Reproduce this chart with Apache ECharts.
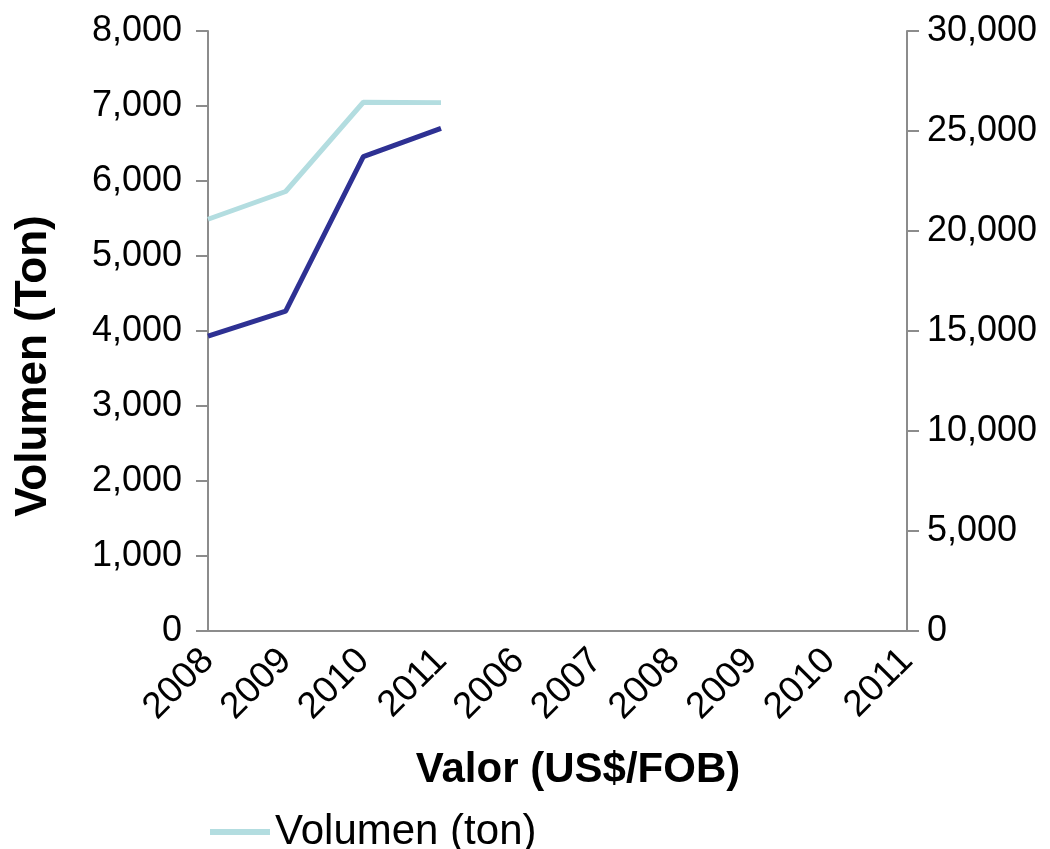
<!DOCTYPE html>
<html>
<head>
<meta charset="utf-8">
<script src="https://cdn.jsdelivr.net/npm/echarts@6/dist/echarts.min.js"></script>
<style>
  html, body { margin: 0; padding: 0; background: #fff; }
  #main { width: 1050px; height: 849px; }
</style>
</head>
<body>
<div id="main"></div>
<script>
var myChart = echarts.init(document.getElementById('main'), null, {renderer: 'canvas'});

// data
var years = ['2008', '2009', '2010', '2011', '2006', '2007', '2008', '2009', '2010', '2011'];
var volumen = [5490, 5860, 7050, 7045, null, null, null, null, null, null];   // left axis, ton
var valor = [14740, 15990, 23720, 25130, null, null, null, null, null, null]; // right axis, US$/FOB

var FONT = '"Liberation Sans", Arial, sans-serif';
var axisGray = '#8c8c8c';

function miles(v) {
    return String(v).replace(/\B(?=(\d{3})+(?!\d))/g, ',');
}

var option = {
    backgroundColor: '#fff',
    animation: false,
    textStyle: { fontFamily: FONT },
    grid: {
        left: 208,
        right: 143,
        top: 31,
        bottom: 218
    },
    legend: {
        data: [{ name: 'Volumen (ton)', icon: 'rect' }],
        left: 205,
        top: 806,
        itemWidth: 60,
        itemHeight: 6,
        itemGap: 10,
        textStyle: { fontSize: 42, color: '#000', fontFamily: FONT }
    },
    xAxis: {
        type: 'category',
        data: years,
        boundaryGap: false,
        axisLine: { lineStyle: { color: axisGray, width: 2 } },
        axisTick: { show: false },
        axisLabel: {
            rotate: 45,
            interval: 0,
            margin: 24,
            fontSize: 37,
            color: '#000',
            fontFamily: FONT
        },
        name: 'Valor (US$/FOB)',
        nameLocation: 'middle',
        nameGap: 118,
        nameTextStyle: {
            fontSize: 42,
            fontWeight: 'bold',
            color: '#000',
            fontFamily: FONT,
            padding: [0, 0, 0, 41]
        }
    },
    yAxis: [
        {
            type: 'value',
            min: 0,
            max: 8000,
            interval: 1000,
            position: 'left',
            splitLine: { show: false },
            axisLine: { show: true, lineStyle: { color: axisGray, width: 2 } },
            axisTick: { show: true, length: 12, lineStyle: { color: axisGray, width: 2 } },
            axisLabel: {
                margin: 26,
                fontSize: 36,
                color: '#000',
                fontFamily: FONT,
                formatter: miles
            },
            name: 'Volumen (Ton)',
            nameLocation: 'middle',
            nameGap: 152,
            nameTextStyle: {
                fontSize: 44,
                fontWeight: 'bold',
                color: '#000',
                fontFamily: FONT,
                padding: [0, 70, 0, 0]
            }
        },
        {
            type: 'value',
            min: 0,
            max: 30000,
            interval: 5000,
            position: 'right',
            splitLine: { show: false },
            axisLine: { show: true, lineStyle: { color: axisGray, width: 2 } },
            axisTick: { show: true, length: 12, lineStyle: { color: axisGray, width: 2 } },
            axisLabel: {
                margin: 20,
                fontSize: 36,
                color: '#000',
                fontFamily: FONT,
                formatter: miles
            }
        }
    ],
    series: [
        {
            name: 'Volumen (ton)',
            type: 'line',
            yAxisIndex: 0,
            data: volumen,
            symbol: 'none',
            lineStyle: { color: '#b3dde0', width: 5 },
            itemStyle: { color: '#b3dde0' }
        },
        {
            name: 'Valor (US$/FOB)',
            type: 'line',
            yAxisIndex: 1,
            data: valor,
            symbol: 'none',
            lineStyle: { color: '#2e3193', width: 5 },
            itemStyle: { color: '#2e3193' }
        }
    ]
};

myChart.setOption(option);
</script>
</body>
</html>
